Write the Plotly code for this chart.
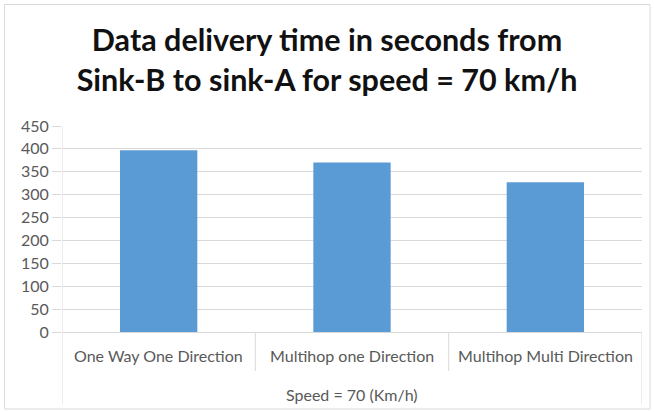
import plotly.graph_objects as go

categories = ["One Way One Direction", "Multihop one Direction", "Multihop Multi Direction"]
values = [397, 370, 327]
group_label = "Speed = 70 (Km/h)"
title_lines = ["Data delivery time in seconds from", "Sink-B to sink-A for speed = 70 km/h"]
y_ticks = [0, 50, 100, 150, 200, 250, 300, 350, 400, 450]

W, H = 654, 412
L, R, T, B = 62, 12, 126, 80
pw, ph = W - L - R, H - T - B

def px_to_py(y):
    return (H - B - y) / ph

def px_to_px(x):
    return (x - L) / pw

grid = "#d9d9d9"
txt = "#595959"
font = "Lato, 'Open Sans', sans-serif"

fig = go.Figure(go.Bar(
    x=list(range(len(categories))), y=values,
    marker=dict(color="#5b9bd5", line=dict(width=0)),
    width=0.4,
))

shapes = []
n = len(categories)
for i in range(n + 1):
    b = i - 0.5
    outer = (i == 0 or i == n)
    shapes.append(dict(type="line", xref="x", yref="paper", x0=b, x1=b,
                       y0=1 if i == 0 else 0,
                       y1=px_to_py(404) if outer else px_to_py(371),
                       line=dict(color=grid, width=1)))
# figure border
shapes.append(dict(type="rect", xref="paper", yref="paper",
                   x0=px_to_px(4.5), x1=px_to_px(650), y0=px_to_py(409), y1=px_to_py(4.5),
                   line=dict(color=grid, width=1), layer="below"))

annotations = [dict(xref="x", yref="paper", x=i, y=px_to_py(355), text=c, showarrow=False,
                    font=dict(family=font, size=16, color=txt), yanchor="middle")
               for i, c in enumerate(categories)]
annotations.append(dict(xref="x", yref="paper", x=(n - 1) / 2, y=px_to_py(394), text=group_label,
                        showarrow=False, font=dict(family=font, size=16, color=txt), yanchor="middle"))

fig.update_layout(
    width=W, height=H,
    margin=dict(l=L, r=R, t=T, b=B),
    paper_bgcolor="white", plot_bgcolor="white",
    title=dict(text="<br>".join(title_lines), x=0.5, xanchor="center",
               y=1 - 51 / H, yanchor="middle", yref="container",
               font=dict(family=font, size=30.5, color="#111111", weight="bold")),
    showlegend=False,
    shapes=shapes,
    annotations=annotations,
    bargap=0.6,
)
fig.update_xaxes(range=[-0.5, n - 0.5], showticklabels=False, showgrid=False,
                 zeroline=False, showline=False, ticks="")
fig.update_yaxes(range=[0, 450], tickvals=y_ticks, showgrid=True, gridcolor=grid, gridwidth=1,
                 zeroline=True, zerolinecolor=grid, zerolinewidth=1,
                 ticks="outside", ticklen=9, tickcolor=grid,
                 tickfont=dict(family=font, size=16, color=txt), showline=False)

fig.write_html("out.html", config={"displayModeBar": False},
               post_script="document.body.style.margin='0';")
